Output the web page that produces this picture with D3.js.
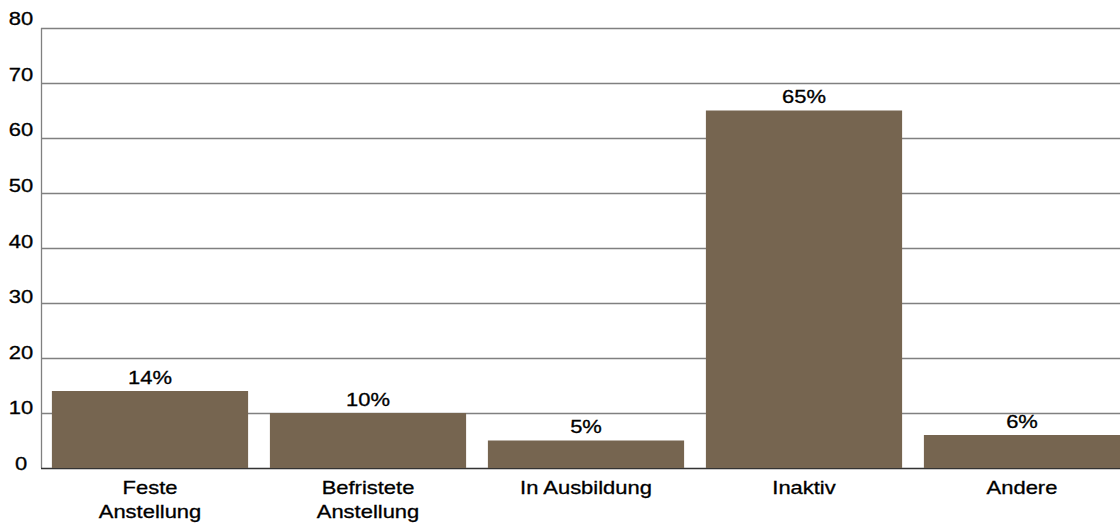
<!DOCTYPE html>
<html>
<head>
<meta charset="utf-8">
<script src="https://cdn.jsdelivr.net/npm/d3@7"></script>
<style>
  body { margin: 0; background: #fff; }
  text { font-family: "Liberation Sans", Arial, sans-serif; fill: #000; font-size: 18px;
         stroke: #000; stroke-width: 0.3px; }
</style>
</head>
<body>
<script>
// categories (multi-line labels) and values in percent
var categories = ["Feste\nAnstellung", "Befristete\nAnstellung", "In Ausbildung", "Inaktiv", "Andere"];
var values = [14, 10, 5, 65, 6];
var yTicks = [0, 10, 20, 30, 40, 50, 60, 70, 80];

var W = 1120, H = 525;
var margin = { top: 28, right: -11, bottom: 57, left: 41 },
    width = W - margin.left - margin.right,
    height = H - margin.top - margin.bottom;

// the text in the original is a little wider than it is tall
var stretch = 1.22;
function place(tx, ty) {
    return "translate(" + tx + "," + ty + ") scale(" + stretch + ",1)";
}

var svg = d3.select("body")
    .append("svg")
    .attr("width", W)
    .attr("height", H)
    .append("g")
    .attr("transform", "translate(" + margin.left + "," + margin.top + ")");

// scales
var x = d3.scaleBand()
    .domain(categories)
    .range([0, width])
    .paddingInner(0.1)
    .paddingOuter(0.05);

var y = d3.scaleLinear()
    .domain([0, 80])
    .range([height, 0]);

// tick labels sit slightly off their lines, more so at the bottom
var yLabel = d3.scaleLinear()
    .domain([0, 80])
    .range([height + 2, -3]);

// gridlines
svg.append("g")
    .selectAll("line")
    .data(yTicks.slice(1))
    .enter()
    .append("line")
    .attr("x1", 0)
    .attr("x2", W)
    .attr("y1", function(d) { return y(d) + 0.5; })
    .attr("y2", function(d) { return y(d) + 0.5; })
    .attr("stroke", "#808080")
    .attr("stroke-width", 1.3);

// left axis line
svg.append("line")
    .attr("x1", 0.5).attr("x2", 0.5)
    .attr("y1", 0).attr("y2", height)
    .attr("stroke", "#808080")
    .attr("stroke-width", 1.3);

// y tick labels
svg.append("g")
    .selectAll("text")
    .data(yTicks)
    .enter()
    .append("text")
    .attr("transform", function(d) { return place(-20, yLabel(d)); })
    .attr("text-anchor", "middle")
    .text(function(d) { return d; });

// bottom axis line
svg.append("line")
    .attr("x1", 0).attr("x2", W)
    .attr("y1", height + 0.5).attr("y2", height + 0.5)
    .attr("stroke", "#333")
    .attr("stroke-width", 1.5);

// bars
svg.append("g")
    .selectAll("rect")
    .data(values)
    .enter()
    .append("rect")
    .attr("x", function(d, i) { return x(categories[i]); })
    .attr("y", function(d) { return y(d); })
    .attr("width", x.bandwidth())
    .attr("height", function(d) { return height - y(d); })
    .attr("fill", "#766550");

// value labels
svg.append("g")
    .selectAll("text")
    .data(values)
    .enter()
    .append("text")
    .attr("transform", function(d, i) {
        return place(x(categories[i]) + x.bandwidth() / 2, y(d) - 7.5);
    })
    .attr("text-anchor", "middle")
    .text(function(d) { return d + "%"; });

// category labels
var cat = svg.append("g")
    .selectAll("text")
    .data(categories)
    .enter()
    .append("text")
    .attr("transform", function(d) { return place(x(d) + x.bandwidth() / 2, height + 26); })
    .attr("text-anchor", "middle");

cat.selectAll("tspan")
    .data(function(d) { return d.split("\n"); })
    .enter()
    .append("tspan")
    .attr("x", 0)
    .attr("dy", function(d, i) { return i === 0 ? 0 : 24.5; })
    .text(function(d) { return d; });
</script>
</body>
</html>
